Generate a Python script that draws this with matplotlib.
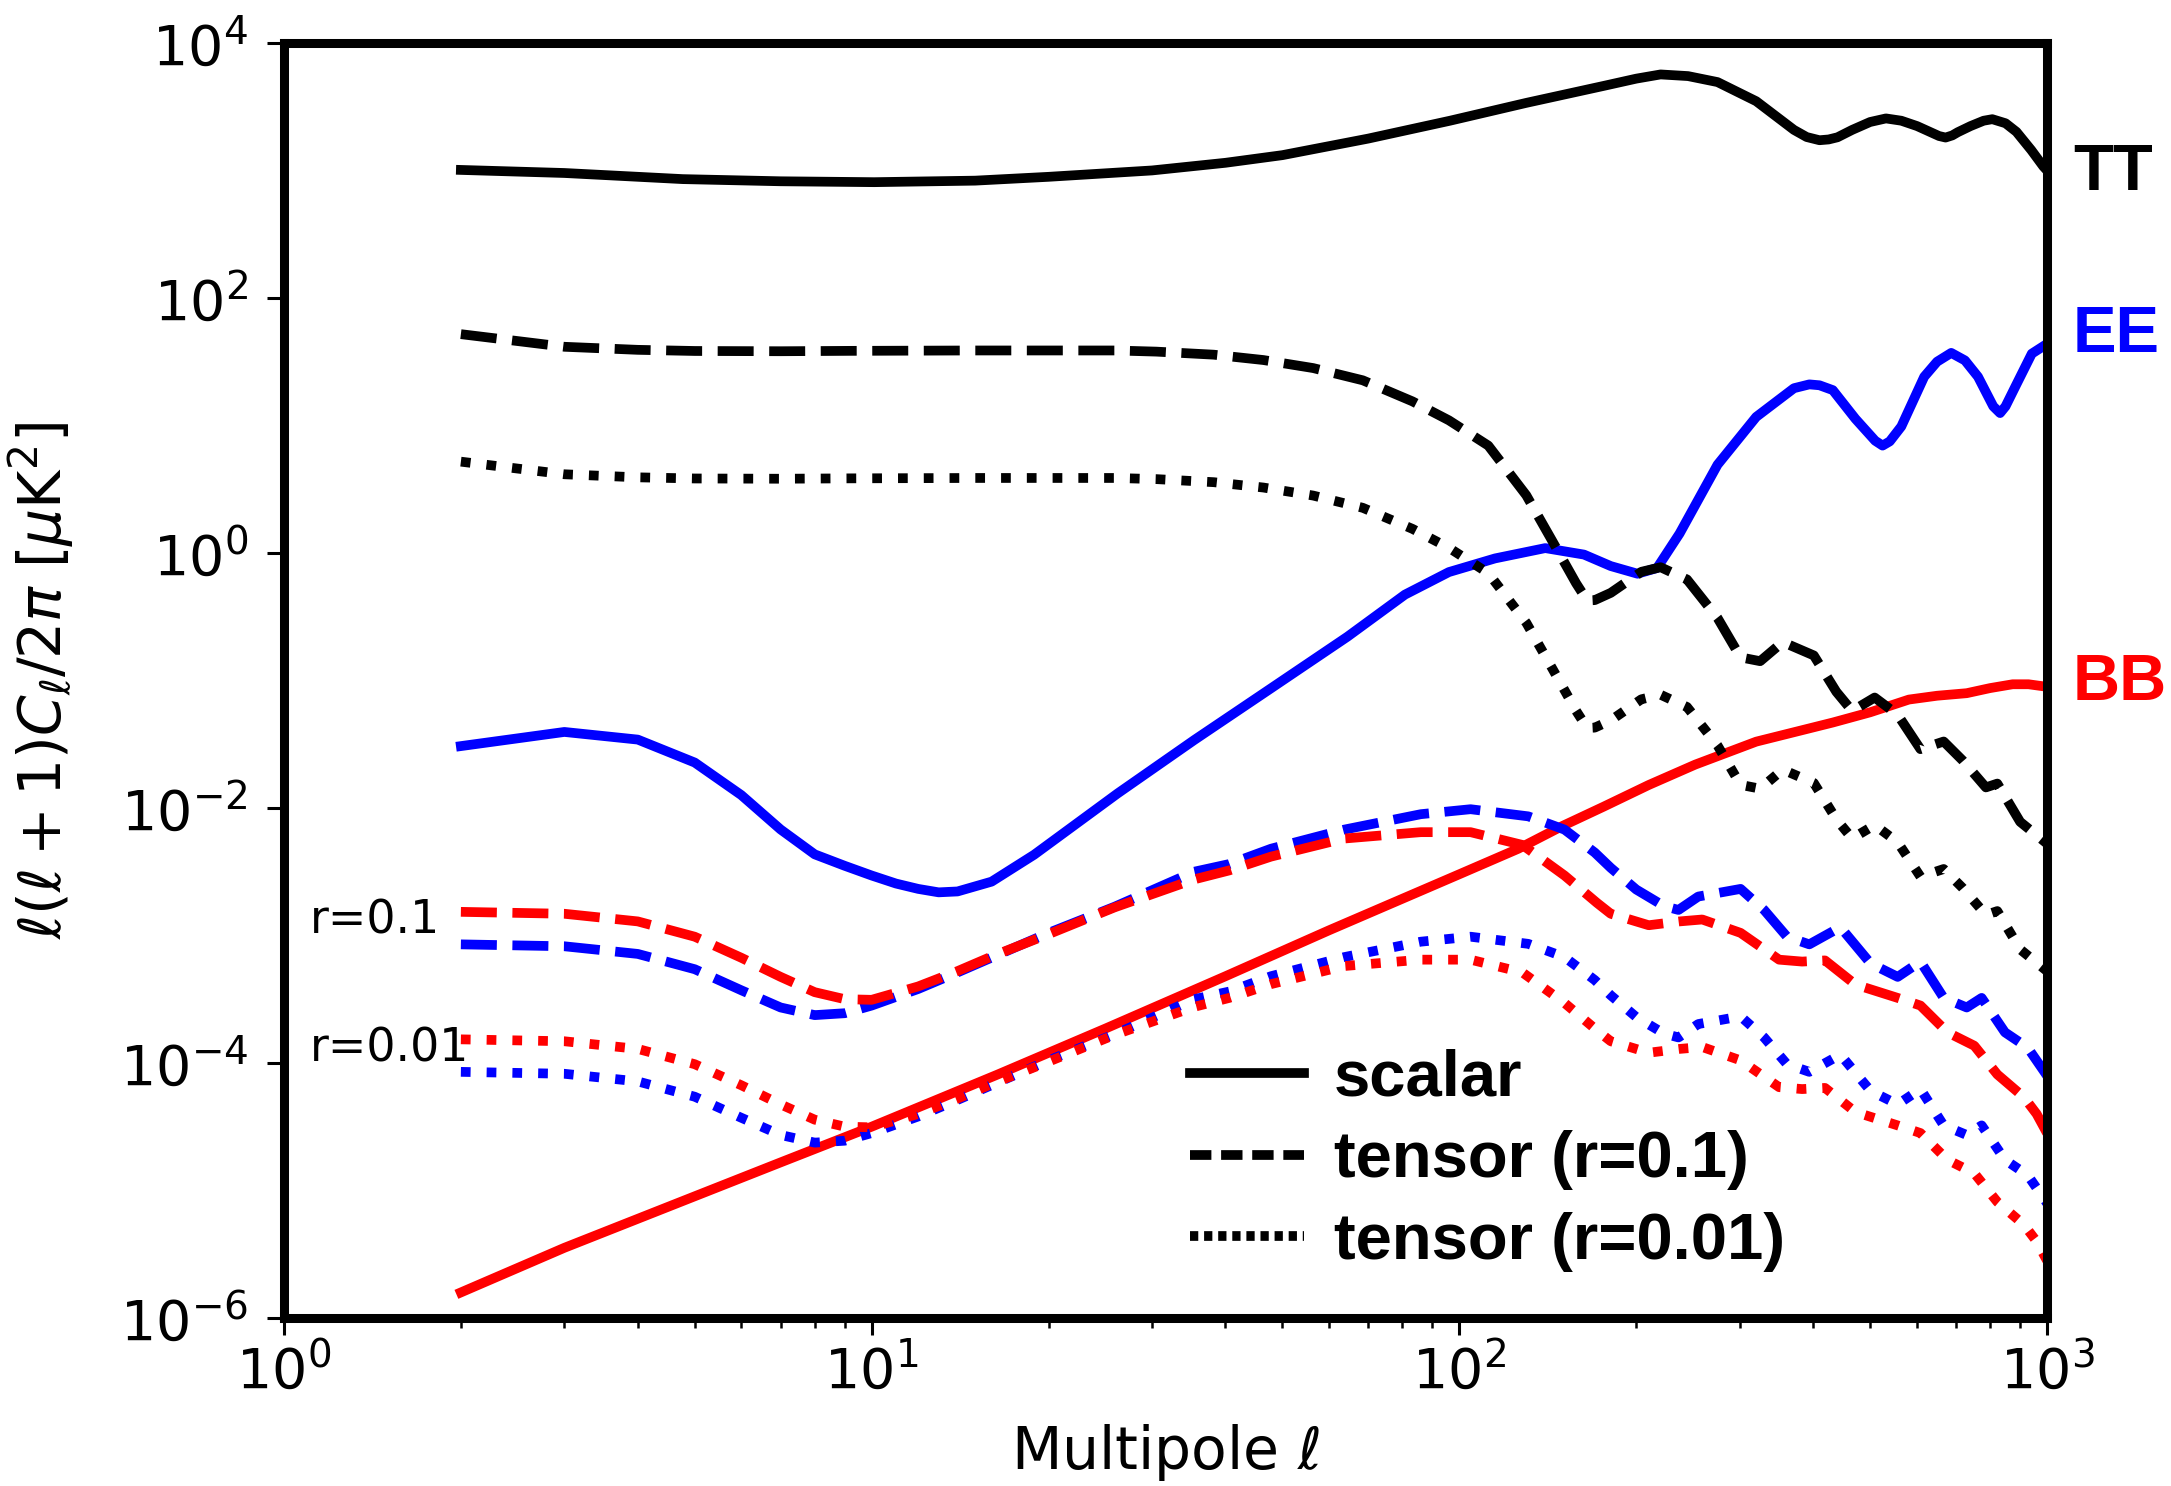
import numpy as np
import matplotlib
matplotlib.use('Agg')
import matplotlib.pyplot as plt
import matplotlib.ticker as mticker
from matplotlib.lines import Line2D

# values, stored as log10 of l(l+1)C_l/2pi [uK^2]

# scalar TT
ell_tt = [2, 3, 4.77, 7, 10.1, 15, 20, 30, 40, 50, 70, 96.4, 130, 176, 200, 220,
          245, 275, 320, 371, 390, 410, 425, 440, 466, 500, 532, 565, 601, 655,
          672, 690, 705, 741, 780, 807, 850, 887, 940, 985, 1000]
log_tt = [3.004, 2.98, 2.932, 2.915, 2.908, 2.92, 2.95, 3.00, 3.06, 3.12, 3.25,
          3.39, 3.53, 3.663, 3.72, 3.753, 3.74, 3.693, 3.543, 3.318, 3.262, 3.237,
          3.243, 3.26, 3.318, 3.38, 3.408, 3.39, 3.348, 3.27, 3.258, 3.275, 3.30,
          3.348, 3.39, 3.402, 3.37, 3.303, 3.16, 3.033, 3.00]

# scalar EE
ell_ee = [2, 3, 4, 5, 6, 7, 8, 9, 10, 11, 12, 13, 14, 16, 18.9, 26.2, 35.4, 47.8,
          64.5, 80.8, 96, 115, 140, 163, 181, 201, 217, 237, 275, 320, 371, 394,
          410, 432, 472, 510, 525, 540, 565, 618, 650, 687, 725, 763, 810, 832,
          850, 887, 942, 1000]
log_ee = [-1.515, -1.404, -1.464, -1.644, -1.899, -2.169, -2.364, -2.454, -2.53,
          -2.593, -2.635, -2.662, -2.655, -2.578, -2.367, -1.887, -1.467, -1.062,
          -0.657, -0.327, -0.15, -0.043, 0.038, -0.013, -0.103, -0.163, -0.118,
          0.152, 0.692, 1.067, 1.292, 1.322, 1.315, 1.277, 1.052, 0.88, 0.842,
          0.875, 0.992, 1.382, 1.50, 1.569, 1.51, 1.382, 1.15, 1.097, 1.15, 1.322,
          1.563, 1.64]

# scalar (lensing) BB
ell_bb = [2, 3, 4.85, 7, 10, 16.4, 25, 40, 60, 100, 126, 150, 176, 210, 252, 320,
          432, 500, 582, 650, 730, 800, 874, 930, 1000]
log_bb = [-5.80, -5.45, -5.07, -4.78, -4.50, -4.09, -3.73, -3.32, -2.96, -2.52,
          -2.32, -2.14, -1.99, -1.82, -1.66, -1.48, -1.33, -1.25, -1.15, -1.12,
          -1.10, -1.06, -1.03, -1.03, -1.05]

# tensor TT, r = 0.1
ell_ttt = [2, 3, 4, 5, 7, 9.2, 15, 26, 30.5, 38.2, 46.4, 56.4, 68.5, 83.2, 96,
           112, 130, 144, 158, 165, 170, 181, 204, 220, 244, 275, 301, 325, 355,
           401, 438, 466, 509, 557, 609, 667, 719, 787, 823, 900, 1000]
log_ttt = [1.716, 1.617, 1.593, 1.584, 1.582, 1.585, 1.588, 1.588, 1.579, 1.555,
           1.513, 1.45, 1.354, 1.189, 1.04, 0.842, 0.452, 0.092, -0.238, -0.373,
           -0.37, -0.313, -0.148, -0.112, -0.208, -0.51, -0.819, -0.849, -0.699,
           -0.804, -1.089, -1.239, -1.134, -1.269, -1.539, -1.479, -1.629, -1.839,
           -1.809, -2.109, -2.28]

# tensor EE, r = 0.1
ell_tee = [2, 3, 4, 5, 6, 7, 8, 9, 10, 12, 14, 17.3, 20, 25.9, 35.4, 40.6, 47.8,
           63.7, 86, 104.5, 131, 151, 170, 181, 200, 223, 236, 255, 301, 330, 361,
           394, 445, 501, 557, 609, 667, 730, 774, 848, 927, 1000]
log_tee = [-3.07, -3.085, -3.145, -3.265, -3.43, -3.565, -3.625, -3.61, -3.55,
           -3.42, -3.29, -3.106, -2.98, -2.775, -2.50, -2.44, -2.32, -2.17, -2.049,
           -2.01, -2.066, -2.17, -2.35, -2.47, -2.64, -2.77, -2.80, -2.695, -2.635,
           -2.80, -3.01, -3.07, -2.935, -3.22, -3.325, -3.205, -3.49, -3.565,
           -3.49, -3.76, -3.88, -4.10]

# tensor BB, r = 0.1
ell_tbb = [2, 3, 4, 5, 6, 7, 8, 9, 10, 12, 14, 16.1, 20, 25.9, 35.4, 40.6, 47.8,
           63.7, 86, 104.5, 128, 151, 171.5, 181, 210, 237, 259, 301, 350, 383,
           419, 472, 557, 609, 677, 752, 823, 914, 960, 1000]
log_tbb = [-2.815, -2.83, -2.89, -3.01, -3.175, -3.325, -3.445, -3.50, -3.505,
           -3.40, -3.28, -3.16, -2.99, -2.78, -2.56, -2.49, -2.382, -2.24, -2.19,
           -2.19, -2.29, -2.53, -2.745, -2.83, -2.92, -2.89, -2.875, -2.98, -3.19,
           -3.205, -3.196, -3.385, -3.49, -3.55, -3.76, -3.865, -4.09, -4.27, -4.40,
           -4.55]

r_values = [0.1, 0.01]
r_ref = 0.1
legend_labels = ['scalar', 'tensor (r=0.1)', 'tensor (r=0.01)']
spec_labels = ['TT', 'EE', 'BB']
spec_colors = ['black', 'blue', 'red']
spec_label_logy = [2.98, 1.71, -1.02]

lw = 7.0
bold_font = ['Liberation Sans', 'DejaVu Sans']


def p(v):
    return 10.0 ** np.array(v)


fig = plt.figure(figsize=(21.71, 14.86), dpi=100)
ax = fig.add_axes((0.1308, 0.1131, 0.8121, 0.8580))

# scalar spectra
ax.plot(ell_tt, p(log_tt), color='black', lw=lw)
ax.plot(ell_ee, p(log_ee), color='blue', lw=lw)
ax.plot(ell_bb, p(log_bb), color='red', lw=lw)

# tensor spectra, scaled with r
for r, ls in zip(r_values, ['--', ':']):
    s = r / r_ref
    ax.plot(ell_ttt, p(log_ttt) * s, color='black', lw=lw, ls=ls)
    ax.plot(ell_tee, p(log_tee) * s, color='blue', lw=lw, ls=ls)
    ax.plot(ell_tbb, p(log_tbb) * s, color='red', lw=lw, ls=ls)

ax.set_xscale('log')
ax.set_yscale('log')
ax.set_xlim(1, 1000)
ax.set_ylim(1e-6, 1e4)

ax.yaxis.set_major_locator(mticker.FixedLocator([1e-6, 1e-4, 1e-2, 1e0, 1e2, 1e4]))
ax.yaxis.set_minor_locator(mticker.NullLocator())
ax.xaxis.set_major_locator(mticker.LogLocator(base=10))
ax.xaxis.set_minor_locator(mticker.LogLocator(base=10, subs=np.arange(2, 10)))
ax.xaxis.set_minor_formatter(mticker.NullFormatter())

for sp in ax.spines.values():
    sp.set_linewidth(6.5)
ax.tick_params(which='major', length=12, width=2.2, labelsize=40)
ax.tick_params(axis='x', which='major', pad=7)
ax.tick_params(axis='y', which='major', pad=14)
ax.tick_params(which='minor', length=7, width=1.8)

ax.set_xlabel(r'Multipole $\ell$', fontsize=42)
ax.set_ylabel(r'$\ell(\ell+1)C_\ell/2\pi$ [$\mu$K$^2$]', fontsize=42)
ax.xaxis.set_label_coords(0.5, -0.082)
ax.yaxis.set_label_coords(-0.118, 0.5)

# spectrum names on the right
for name, col, ly in zip(spec_labels, spec_colors, spec_label_logy):
    ax.text(1107, 10 ** ly, name, color=col, fontsize=47, fontweight='bold',
            family=bold_font, va='center', ha='left', clip_on=False)

ax.text(1.107, 10 ** -2.89, 'r=0.1', fontsize=33, va='center', ha='left')
ax.text(1.107, 10 ** -3.89, 'r=0.01', fontsize=33, va='center', ha='left')

handles = [Line2D([], [], color='black', lw=lw),
           Line2D([], [], color='black', lw=lw, ls=(0, (2.2, 1.0))),
           Line2D([], [], color='black', lw=lw, ls=(0, (0.85, 0.6)))]
ax.legend(handles, legend_labels, loc='lower left', bbox_to_anchor=(0.514, 0.036),
          frameon=False, borderpad=0, borderaxespad=0, handlelength=1.75,
          handletextpad=0.45, labelspacing=0.33,
          prop={'family': bold_font, 'weight': 'bold', 'size': 47})

fig.savefig('out.png', dpi=100)
